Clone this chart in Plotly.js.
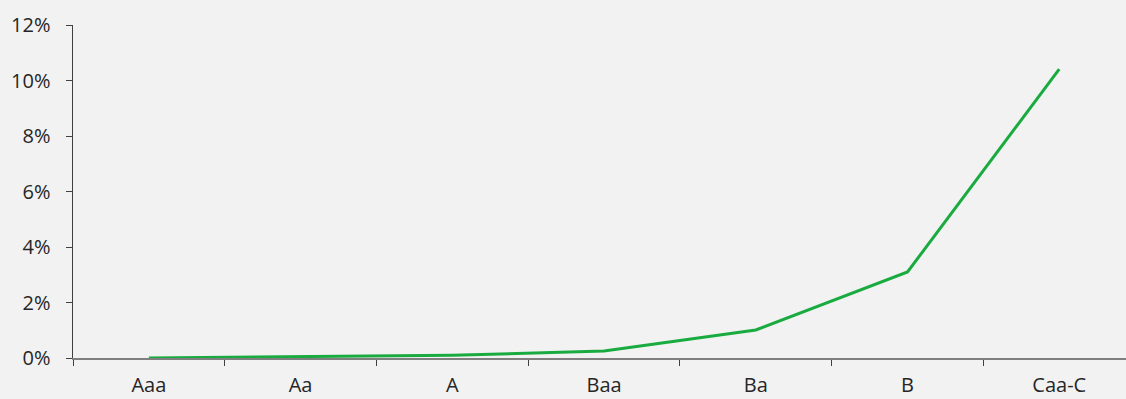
<!DOCTYPE html>
<html>
<head>
<meta charset="utf-8">
<script src="https://cdn.plot.ly/plotly-3.0.1.min.js"></script>
<style>html,body{margin:0;padding:0;background:#f2f2f2;}#chart{width:1126px;height:399px;}</style>
</head>
<body>
<div id="chart"></div>
<script>
const categories = ["Aaa", "Aa", "A", "Baa", "Ba", "B", "Caa-C"];
const defaultRates = [0.0000, 0.0005, 0.0010, 0.0025, 0.0101, 0.0310, 0.1041];
const yTickValues = [0, 0.02, 0.04, 0.06, 0.08, 0.10, 0.12];

const trace = {
  x: categories,
  y: defaultRates,
  type: "scatter",
  mode: "lines",
  line: {color: "#1aab40", width: 3},
  hoverinfo: "skip"
};

const layout = {
  width: 1126,
  height: 399,
  margin: {l: 73, r: 0, t: 25, b: 41, pad: 0},
  paper_bgcolor: "#f2f2f2",
  plot_bgcolor: "#f2f2f2",
  showlegend: false,
  font: {family: "Open Sans, Noto Sans, sans-serif", size: 20, color: "#262626"},
  xaxis: {
    type: "category",
    range: [-0.5, 6.44],
    showgrid: false,
    zeroline: false,
    showline: true,
    linecolor: "#7f7f7f",
    linewidth: 1.5,
    ticks: "outside",
    tickson: "boundaries",
    ticklen: 6,
    tickcolor: "#404040",
    tickwidth: 1,
    ticklabelstandoff: 8,
    tickfont: {size: 20, color: "#262626"}
  },
  yaxis: {
    range: [0, 0.12],
    tickvals: yTickValues,
    tickformat: ".0%",
    showgrid: false,
    zeroline: false,
    showline: true,
    linecolor: "#404040",
    linewidth: 1.5,
    ticks: "outside",
    ticklen: 6,
    tickcolor: "#404040",
    ticklabelstandoff: 11,
    tickfont: {size: 20, color: "#262626"}
  }
};

Plotly.newPlot("chart", [trace], layout, {staticPlot: true, displayModeBar: false});
</script>
</body>
</html>
